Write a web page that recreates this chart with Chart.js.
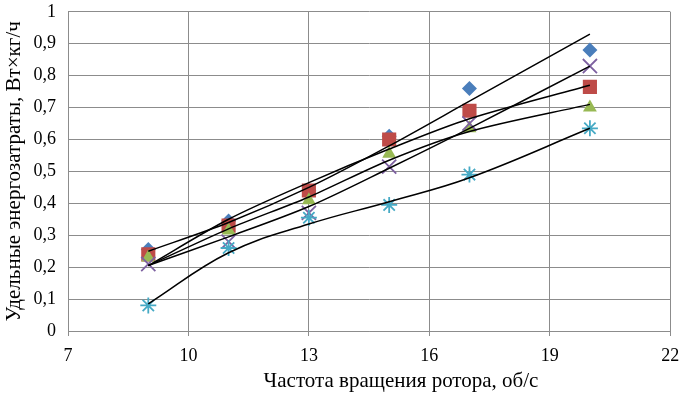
<!DOCTYPE html>
<html>
<head>
<meta charset="utf-8">
<script src="https://cdn.jsdelivr.net/npm/chart.js@4/dist/chart.umd.min.js"></script>
<style>
  body { margin: 0; background: #fff; }
</style>
</head>
<body>
<canvas id="energy_chart" width="682" height="394"></canvas>
<script>
// частота вращения ротора, об/с
var xValues = [9, 11, 13, 15, 17, 20];

// measured points
var seriesBlue = [0.255, 0.345, 0.44, 0.61, 0.76, 0.88];
var seriesRed = [0.24, 0.33, 0.44, 0.60, 0.69, 0.765];
var seriesGreen = [0.23, 0.315, 0.41, 0.555, 0.635, 0.70];
var seriesPurple = [0.21, 0.28, 0.37, 0.515, 0.65, 0.83];
var seriesCyan = [0.08, 0.26, 0.355, 0.395, 0.49, 0.635];

// trend lines at the same x
var trendBlue = [0.25, 0.34, 0.45, 0.58, 0.72, 0.93];
var trendRed = [0.205, 0.35, 0.465, 0.57, 0.665, 0.77];
var trendGreen = [0.205, 0.32, 0.42, 0.535, 0.625, 0.71];
var trendPurple = [0.205, 0.295, 0.39, 0.51, 0.635, 0.83];
var trendCyan = [0.085, 0.245, 0.335, 0.405, 0.48, 0.635];

var yTitle = "Удельные энергозатраты, Вт×кг/ч";
var xTitle = "Частота вращения ротора, об/с";

function pts(ys) {
  return xValues.map((x, i) => ({ x: x, y: ys[i] }));
}

function markers(ys, style, color, radius, order) {
  return {
    data: pts(ys),
    showLine: false,
    pointStyle: style,
    pointRadius: radius,
    pointBackgroundColor: color,
    pointBorderColor: color,
    pointBorderWidth: (style == "crossRot" || style == "star") ? 1.8 : 0,
    order: order,
  };
}

function trend(ys, tension) {
  return {
    data: pts(ys),
    showLine: true,
    borderColor: "#000",
    borderWidth: 1.5,
    pointRadius: 0,
    tension: tension,
    order: 0,
  };
}

const font = "'Liberation Serif', 'Times New Roman', serif";

// x title sits right of the plot centre in the original, so it is drawn here
const xTitlePlugin = {
  id: "xTitle",
  afterDraw(chart) {
    const ctx = chart.ctx;
    const area = chart.chartArea;
    ctx.save();
    ctx.font = "21px " + font;
    ctx.fillStyle = "#000";
    ctx.textAlign = "center";
    ctx.textBaseline = "middle";
    ctx.fillText(xTitle, area.left + area.width * 0.553, area.bottom + 50);
    ctx.restore();
  },
};

const config_energy = {
  type: "scatter",
  data: {
    datasets: [
      markers(seriesBlue, "rectRot", "#4A7EBB", 7.5, 5),
      markers(seriesRed, "rect", "#BE4B48", 10, 4),
      markers(seriesGreen, "triangle", "#98B954", 8, 3),
      markers(seriesPurple, "crossRot", "#7D60A0", 10, 2),
      markers(seriesCyan, "star", "#46AAC5", 8, 1),
      trend(trendBlue, 0.3),
      trend(trendRed, 0.3),
      trend(trendGreen, 0.3),
      trend(trendPurple, 0.3),
      trend(trendCyan, 0.4),
    ],
  },
  options: {
    responsive: false,
    animation: false,
    layout: { padding: { top: 9, right: 4, left: 0, bottom: 0 } },
    scales: {
      x: {
        type: "linear",
        min: 7,
        max: 22,
        ticks: { stepSize: 3, color: "#000", font: { family: font, size: 18 }, padding: 9 },
        grid: { color: "#8c8c8c", tickLength: 5, tickColor: "#8c8c8c" },
        border: { color: "#8c8c8c" },
        title: { display: false },
        afterFit(scale) {
          scale.height = 63;
          scale.paddingLeft = 0;
          scale.paddingRight = 0;
        },
      },
      y: {
        min: 0,
        max: 1,
        ticks: {
          stepSize: 0.1,
          color: "#000",
          font: { family: font, size: 18 },
          padding: 12,
          callback: (v) => (Math.abs(v) < 1e-9 ? "0" : Math.abs(v - 1) < 1e-9 ? "1" : v.toFixed(1).replace(".", ",")),
        },
        grid: { color: "#8c8c8c", drawTicks: false },
        border: { color: "#8c8c8c" },
        title: { display: true, text: yTitle, color: "#000", font: { family: font, size: 21 }, padding: { top: 2, bottom: 0 } },
        afterFit(scale) {
          scale.width = 68;
          scale.paddingTop = 0;
          scale.paddingBottom = 0;
        },
      },
    },
    plugins: {
      legend: { display: false },
      tooltip: { enabled: false },
    },
  },
  plugins: [xTitlePlugin],
};

const energy_chart = new Chart(document.getElementById("energy_chart"), config_energy);
</script>
</body>
</html>
